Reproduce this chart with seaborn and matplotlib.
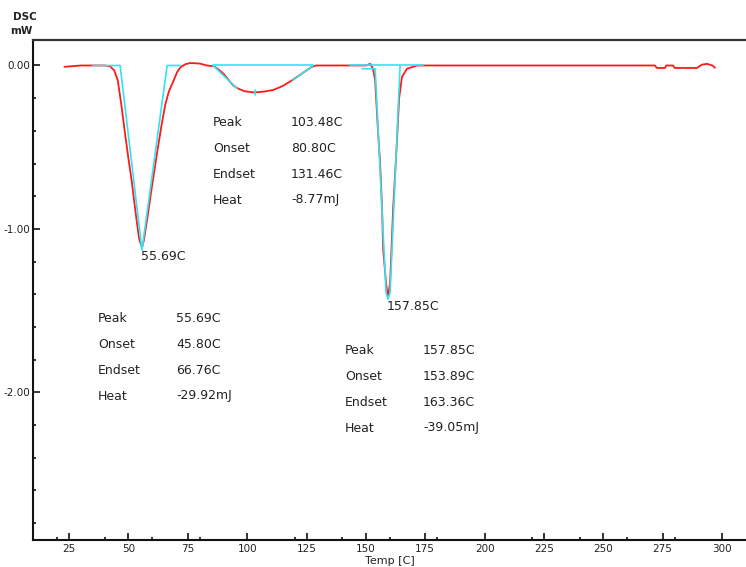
import matplotlib
matplotlib.use("Agg")
import matplotlib.pyplot as plt
from matplotlib.ticker import MultipleLocator, FormatStrFormatter
import seaborn as sns

# DSC signal (temperature in C, heat flow in mW)
temp = [23, 30, 36, 40, 42.3, 44, 45.5, 47, 48.5, 50, 51.5, 53, 54.5, 55.7, 56.5,
        58, 60, 62, 64, 65.5, 67, 68.8, 70.5, 72, 74, 76, 80, 83,
        86, 88, 90, 92, 94, 96, 99, 103, 107, 111, 115, 119, 122, 125, 127, 129,
        135, 145, 150, 151.8, 153, 153.9, 155.1, 156, 156.8, 157.3, 158.5, 159.3,
        160.2, 161, 161.5, 163.1, 164, 165.2, 167.3, 171.6, 180,
        200, 250, 271.8, 272.5, 276, 276.5, 279.4, 280, 289.5, 291.5, 293.7, 296, 297]
heat = [-0.008, 0.0, 0.0, 0.0, -0.005, -0.03, -0.09, -0.24, -0.41, -0.57, -0.72, -0.90, -1.06, -1.115, -1.07,
        -0.93, -0.73, -0.54, -0.36, -0.24, -0.16, -0.10, -0.04, -0.01, 0.008, 0.015, 0.012, 0.0,
        -0.005, -0.025, -0.05, -0.085, -0.12, -0.14, -0.158, -0.165, -0.16, -0.15, -0.125, -0.09, -0.06, -0.03, -0.01, 0.0,
        0.0, 0.0, 0.0, 0.01, -0.02, -0.09, -0.40, -0.60, -0.87, -1.13, -1.33, -1.42,
        -1.33, -1.05, -0.87, -0.46, -0.20, -0.07, -0.02, 0.0, 0.0,
        0.0, 0.0, 0.0, -0.015, -0.015, 0.0, 0.0, -0.015, -0.015, 0.005, 0.01, 0.0, -0.014]

# analysis lines (baseline + tangents) drawn by the instrument software
base1_t = [35.1, 46.5, 55.7, 66.3, 71.7]
base1_h = [0.0, 0.0, -1.13, 0.0, 0.0]
base2_t = [85.6, 127.8]
base2_h = [0.0, 0.0]
tan2l_t = [85.6, 95.7]
tan2l_h = [0.0, -0.14]
tan2r_t = [119.3, 127.8]
tan2r_h = [-0.09, 0.0]
tick2_t = [103.48, 103.48]
tick2_h = [-0.15, -0.178]
base3_t = [143.3, 174.1]
base3_h = [0.0, 0.0]
tan3_t = [148.4, 153.9, 158.5, 159.3, 160.2, 164.4]
tan3_h = [-0.02, -0.02, -1.39, -1.43, -1.39, 0.0]

# peak result tables
rows = ["Peak", "Onset", "Endset", "Heat"]
res_p1 = ["55.69C", "45.80C", "66.76C", "-29.92mJ"]
res_p2 = ["103.48C", "80.80C", "131.46C", "-8.77mJ"]
res_p3 = ["157.85C", "153.89C", "163.36C", "-39.05mJ"]
peak_labels = [(55.7, -1.115, "55.69C"), (159.3, -1.42, "157.85C")]

sns.set_style("white")
plt.rcParams['font.family'] = ['DejaVu Sans']
plt.rcParams['axes.unicode_minus'] = False

W, H = 746, 567
fig = plt.figure(figsize=(W / 100, H / 100), dpi=100)
ax = fig.add_axes([33 / W, 27 / H, 1 - 33 / W, 500 / H])

red = "#ff1a1a"
cyan = "#33e4f0"
sns.lineplot(x=temp, y=heat, sort=False, estimator=None, color=red, lw=1.3, ax=ax)
for tt, hh in [(base1_t, base1_h), (base2_t, base2_h), (tan2l_t, tan2l_h), (tan2r_t, tan2r_h),
               (tick2_t, tick2_h), (base3_t, base3_h), (tan3_t, tan3_h)]:
    sns.lineplot(x=tt, y=hh, sort=False, estimator=None, color=cyan, lw=1.2, ax=ax)

ax.set_xlim(9.8, 310.1)
ax.set_ylim(-2.904, 0.156)

# spines
for s in ["left", "bottom"]:
    ax.spines[s].set_color("#111111")
    ax.spines[s].set_linewidth(1.5)
ax.spines["top"].set_color("#333333")
ax.spines["top"].set_linewidth(1.6)
ax.spines["right"].set_visible(False)

# ticks
ax.xaxis.set_major_locator(MultipleLocator(25))
ax.xaxis.set_minor_locator(MultipleLocator(20))
ax.yaxis.set_major_locator(MultipleLocator(1.0))
ax.yaxis.set_minor_locator(MultipleLocator(0.2))
ax.yaxis.set_major_formatter(FormatStrFormatter("%.2f"))
ax.tick_params(which="both", bottom=True, left=True, top=False, right=False)
ax.tick_params(which="major", direction="in", length=5, width=1.2, color="#111111",
               labelsize=7.5, labelcolor="#222222")
ax.tick_params(which="minor", direction="in", length=2, width=1.2, color="#111111")
ax.tick_params(axis="y", which="major", pad=2)
ax.tick_params(axis="x", which="major", pad=3)

# axis labels
fig.text(25 / W, 1 - 17 / H, "DSC", ha="center", va="center", fontsize=7.5,
         fontweight="bold", color="#222222")
fig.text(21 / W, 1 - 31 / H, "mW", ha="center", va="center", fontsize=7.5,
         fontweight="bold", color="#222222")
fig.text(390 / W, 1 - 561 / H, "Temp [C]", ha="center", va="center", fontsize=8,
         color="#222222")

# peak labels
for px, py, lab in peak_labels:
    ax.annotate(lab, (px, py), xytext=(-1, -9), textcoords="offset pixels",
                ha="left", va="center", fontsize=9, color="#222222")

# result tables
def table(x0, x1, ys, vals):
    for name, val, y in zip(rows, vals, ys):
        fig.text(x0 / W, 1 - y / H, name, ha="left", va="center", fontsize=9, color="#222222")
        fig.text(x1 / W, 1 - y / H, val, ha="left", va="center", fontsize=9, color="#222222")

table(213, 291, [123, 148, 174, 200], res_p2)
table(98, 176, [319, 345, 370, 396], res_p1)
table(345, 423, [350, 376, 403, 428], res_p3)

plt.savefig("out.png", dpi=100)
